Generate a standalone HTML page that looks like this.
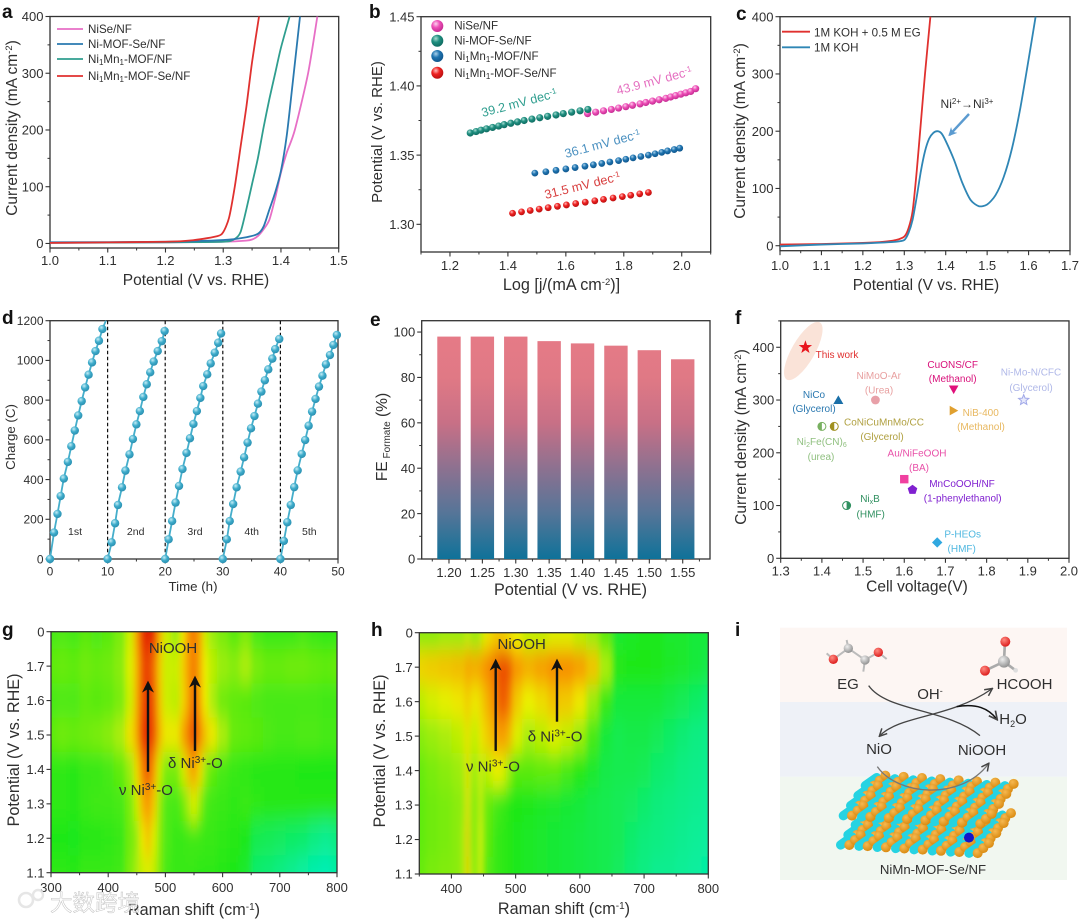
<!DOCTYPE html>
<html lang="en">
<head>
<meta charset="utf-8">
<title>Electrocatalysis figure</title>
<style>
html,body{margin:0;padding:0;background:#fff;width:1080px;height:921px;overflow:hidden}
svg{display:block}
text{font-family:"Liberation Sans","Noto Sans CJK SC",sans-serif;fill:#2f2f2f}
.pl{font-size:19px;font-weight:bold;fill:#111}
.t{font-size:15.5px}
.t16{font-size:16.2px}
.t13{font-size:13.3px}
.lg{font-size:11.6px}
.fl{font-size:10px}
.ht{font-size:15px}
.m{text-anchor:middle}
</style>
</head>
<body>
<svg id="fig" xmlns="http://www.w3.org/2000/svg" width="1080" height="921" viewBox="0 0 1080 921">
<defs>
<linearGradient id="barGrad" gradientUnits="userSpaceOnUse" x1="0" y1="332" x2="0" y2="559">
<stop offset="0" stop-color="#e67a87"/><stop offset=".2" stop-color="#e07985"/><stop offset=".4" stop-color="#c87086"/><stop offset=".6" stop-color="#8d7190"/><stop offset=".8" stop-color="#557598"/><stop offset="1" stop-color="#0f7299"/>
</linearGradient>
<radialGradient id="ballPink" cx=".38" cy=".32" r=".7"><stop offset="0" stop-color="#fbd3ee"/><stop offset=".45" stop-color="#ee50b8"/><stop offset="1" stop-color="#c22a90"/></radialGradient>
<radialGradient id="ballTeal" cx=".38" cy=".32" r=".7"><stop offset="0" stop-color="#a8dcd2"/><stop offset=".45" stop-color="#1f8f80"/><stop offset="1" stop-color="#0f6a60"/></radialGradient>
<radialGradient id="ballBlue" cx=".38" cy=".32" r=".7"><stop offset="0" stop-color="#a8d0ea"/><stop offset=".45" stop-color="#1f74b0"/><stop offset="1" stop-color="#10568c"/></radialGradient>
<radialGradient id="ballRed" cx=".38" cy=".32" r=".7"><stop offset="0" stop-color="#fbb"/><stop offset=".45" stop-color="#ee2020"/><stop offset="1" stop-color="#b81010"/></radialGradient>
<radialGradient id="ballCyan" cx=".38" cy=".32" r=".7"><stop offset="0" stop-color="#c5edf6"/><stop offset=".5" stop-color="#3eaccb"/><stop offset="1" stop-color="#2a8fb0"/></radialGradient>
<radialGradient id="ballOrange" cx=".38" cy=".32" r=".7"><stop offset="0" stop-color="#f6b850"/><stop offset="1" stop-color="#d98a10"/></radialGradient>
<radialGradient id="ballO" cx=".38" cy=".32" r=".7"><stop offset="0" stop-color="#ff8a80"/><stop offset="1" stop-color="#dc1a1a"/></radialGradient>
<radialGradient id="ballC" cx=".38" cy=".32" r=".7"><stop offset="0" stop-color="#eee"/><stop offset="1" stop-color="#8f8f8f"/></radialGradient>
<filter id="heatBlur" x="-5%" y="-5%" width="110%" height="110%"><feGaussianBlur stdDeviation="3 11"/></filter>
<clipPath id="clipG"><rect x="51" y="631.7" width="286" height="241"/></clipPath>
<clipPath id="clipH"><rect x="419.3" y="632.7" width="289" height="241.3"/></clipPath>
<marker id="ah" viewBox="0 0 10 10" refX="8" refY="5" markerWidth="5" markerHeight="5" orient="auto-start-reverse"><path d="M0 0 L10 5 L0 10 L3 5 Z" fill="#111"/></marker>
<marker id="ahg" viewBox="0 0 10 10" refX="8" refY="5" markerWidth="7" markerHeight="7" orient="auto-start-reverse"><path d="M1 1 L9 5 L1 9" fill="none" stroke="#444" stroke-width="1.6"/></marker>
<marker id="ahb" viewBox="0 0 10 10" refX="8" refY="5" markerWidth="3.6" markerHeight="3.6" orient="auto"><path d="M0 0 L10 5 L0 10 L3 5 Z" fill="#5b9bd0"/></marker>
</defs>

<g id="panelI">
<rect x="780" y="627.7" width="287" height="74.3" fill="#fdf6f3"/>
<rect x="780" y="702" width="287" height="74.7" fill="#eef1f7"/>
<rect x="780" y="776.7" width="287" height="103.3" fill="#f1f7f0"/>
<g id="mof" transform="translate(730,615) scale(.3333)"></g>
<g id="mol" transform="translate(730,615) scale(.3333)">
<g>
<path d="M290 115L310 133L355 100L405 135L445 112L470 132M355 100L350 75M405 135L400 170" stroke="#bbb" stroke-width="6" fill="none"/>
<circle cx="310" cy="133" r="14" fill="url(#ballO)"/><circle cx="445" cy="112" r="14" fill="url(#ballO)"/>
<circle cx="355" cy="100" r="14" fill="url(#ballC)"/><circle cx="405" cy="135" r="14" fill="url(#ballC)"/>
</g>
<g>
<path d="M825 80L822 140L765 167M822 140L855 165" stroke="#aaa" stroke-width="8" fill="none"/>
<circle cx="822" cy="140" r="18" fill="url(#ballC)"/><circle cx="826" cy="80" r="15" fill="url(#ballO)"/><circle cx="765" cy="167" r="15" fill="url(#ballO)"/><circle cx="857" cy="166" r="7" fill="#ddd"/>
</g>
<path d="M416 212 C470 290 650 280 750 362" fill="none" stroke="#444" stroke-width="4"/>
<path d="M450 362 C510 300 660 310 785 222" fill="none" stroke="#444" stroke-width="4" marker-start="url(#ahg)" marker-end="url(#ahg)"/>
<path d="M680 275 C740 265 775 280 800 312" fill="none" stroke="#111" stroke-width="4.5" marker-end="url(#ahg)"/>
<path d="M442 455 C500 540 690 560 775 447" fill="none" stroke="#777" stroke-width="4" marker-end="url(#ahg)"/>
</g>
<text class="ht m" x="848" y="689">EG</text>
<text class="ht m" x="1024.5" y="689">HCOOH</text>
<text class="ht m" x="930" y="699">OH<tspan font-size="9" dy="-5">-</tspan></text>
<text class="ht m" x="1013" y="724">H<tspan font-size="9" dy="3">2</tspan><tspan dy="-3">O</tspan></text>
<text class="ht m" x="879" y="754">NiO</text>
<text class="ht m" x="982" y="755">NiOOH</text>
<text class="m" font-size="13.2" x="933" y="874">NiMn-MOF-Se/NF</text>
</g>

<g id="marks"></g>

<!-- panel letters -->
<text class="pl" x="2" y="18">a</text>
<text class="pl" x="369" y="18">b</text>
<text class="pl" x="736" y="20">c</text>
<text class="pl" x="2" y="324">d</text>
<text class="pl" x="370" y="326">e</text>
<text class="pl" x="735" y="324">f</text>
<text class="pl" x="2" y="636">g</text>
<text class="pl" x="371" y="636">h</text>
<text class="pl" x="735" y="636">i</text>

<!-- axis titles -->
<text class="t m" x="196" y="285">Potential (V vs. RHE)</text>
<text class="t m" transform="translate(17,128) rotate(-90)">Current density (mA cm<tspan font-size="9.5" dy="-5">-2</tspan><tspan dy="5">)</tspan></text>
<text class="t16 m" x="561.5" y="290">Log [j/(mA cm<tspan font-size="9.5" dy="-5">-2</tspan><tspan dy="5">)]</tspan></text>
<text class="t m" style="font-size:15px" transform="translate(382,132) rotate(-90)">Potential (V vs. RHE)</text>
<text class="t m" x="926" y="290">Potential (V vs. RHE)</text>
<text class="t m" transform="translate(745,131) rotate(-90)">Current density (mA cm<tspan font-size="9.5" dy="-5">-2</tspan><tspan dy="5">)</tspan></text>
<text class="t13 m" x="193" y="591">Time (h)</text>
<text class="t13 m" transform="translate(15,437) rotate(-90)">Charge (C)</text>
<text class="t16 m" x="570.5" y="595">Potential (V vs. RHE)</text>
<text class="t m" transform="translate(387,437) rotate(-90)">FE<tspan font-size="10" dy="3"> Formate</tspan><tspan dy="-3"> (%)</tspan></text>
<text class="t m" x="917" y="591.7">Cell voltage(V)</text>
<text class="t m" transform="translate(746,437) rotate(-90)">Current density (mA cm<tspan font-size="9.5" dy="-5">-2</tspan><tspan dy="5">)</tspan></text>
<text class="t16 m" x="194" y="915">Raman shift (cm<tspan font-size="10" dy="-5">-1</tspan><tspan dy="5">)</tspan></text>
<text class="t16 m" transform="translate(19,750) rotate(-90)">Potential (V vs. RHE)</text>
<text class="t16 m" x="564" y="914">Raman shift (cm<tspan font-size="10" dy="-5">-1</tspan><tspan dy="5">)</tspan></text>
<text class="t16 m" transform="translate(385,751) rotate(-90)">Potential (V vs. RHE)</text>

<!-- legend a -->
<g>
<line x1="57" x2="83" y1="29" y2="29" stroke="#e76fc6" stroke-width="1.8"/>
<line x1="57" x2="83" y1="44" y2="44" stroke="#2a7ab0" stroke-width="1.8"/>
<line x1="57" x2="83" y1="59" y2="59" stroke="#2f9e8f" stroke-width="1.8"/>
<line x1="57" x2="83" y1="76" y2="76" stroke="#e0312f" stroke-width="1.8"/>
<text class="lg" x="88" y="33">NiSe/NF</text>
<text class="lg" x="88" y="48">Ni-MOF-Se/NF</text>
<text class="lg" x="88" y="63">Ni<tspan font-size="8" dy="2">1</tspan><tspan dy="-2">Mn</tspan><tspan font-size="8" dy="2">1</tspan><tspan dy="-2">-MOF/NF</tspan></text>
<text class="lg" x="88" y="80">Ni<tspan font-size="8" dy="2">1</tspan><tspan dy="-2">Mn</tspan><tspan font-size="8" dy="2">1</tspan><tspan dy="-2">-MOF-Se/NF</tspan></text>
</g>
<!-- legend b -->
<g>
<circle cx="437.3" cy="26" r="6" fill="url(#ballPink)"/>
<circle cx="437.3" cy="40.7" r="6" fill="url(#ballTeal)"/>
<circle cx="437.3" cy="56" r="6" fill="url(#ballBlue)"/>
<circle cx="437.3" cy="72.7" r="6" fill="url(#ballRed)"/>
<text class="lg" x="454.3" y="29.5">NiSe/NF</text>
<text class="lg" x="454.3" y="44.7">Ni-MOF-Se/NF</text>
<text class="lg" x="454.3" y="60">Ni<tspan font-size="8" dy="2">1</tspan><tspan dy="-2">Mn</tspan><tspan font-size="8" dy="2">1</tspan><tspan dy="-2">-MOF/NF</tspan></text>
<text class="lg" x="454.3" y="77">Ni<tspan font-size="8" dy="2">1</tspan><tspan dy="-2">Mn</tspan><tspan font-size="8" dy="2">1</tspan><tspan dy="-2">-MOF-Se/NF</tspan></text>
</g>
<text font-size="12.6" style="fill:#2f9e8f" transform="translate(482.7,117) rotate(-15)">39.2 mV dec<tspan font-size="8" dy="-4">-1</tspan></text>
<text font-size="12.6" style="fill:#e56fc0" transform="translate(617.7,95) rotate(-15)">43.9 mV dec<tspan font-size="8" dy="-4">-1</tspan></text>
<text font-size="12.6" style="fill:#4a90c0" transform="translate(566,158) rotate(-15)">36.1 mV dec<tspan font-size="8" dy="-4">-1</tspan></text>
<text font-size="12.6" style="fill:#d84040" transform="translate(545.7,199) rotate(-14)">31.5 mV dec<tspan font-size="8" dy="-4">-1</tspan></text>
<!-- legend c -->
<g>
<line x1="782" x2="810" y1="31.7" y2="31.7" stroke="#e0312f" stroke-width="1.8"/>
<line x1="782" x2="810" y1="47.3" y2="47.3" stroke="#2f86b5" stroke-width="1.8"/>
<text class="lg" x="814" y="36.5">1M KOH + 0.5 M EG</text>
<text class="lg" x="814" y="51.5">1M KOH</text>
</g>
<text class="m" font-size="12" x="967" y="108">Ni<tspan font-size="8" dy="-4">2+</tspan><tspan dy="4">→Ni</tspan><tspan font-size="8" dy="-4">3+</tspan></text>
<line x1="969" y1="114" x2="949.5" y2="135" stroke="#5b9bd0" stroke-width="2.4" marker-end="url(#ahb)"/>
<!-- cycle labels -->
<text class="m" font-size="10.5" x="75" y="535">1st</text>
<text class="m" font-size="10.5" x="135.7" y="535">2nd</text>
<text class="m" font-size="10.5" x="195" y="535">3rd</text>
<text class="m" font-size="10.5" x="251.7" y="535">4th</text>
<text class="m" font-size="10.5" x="309.3" y="535">5th</text>
<!-- f labels -->
<g>
<text class="fl m" style="fill:#e0302f" x="837" y="358">This work</text>
<text class="fl m" style="fill:#e8a0a0" x="878.7" y="379">NiMoO-Ar</text>
<text class="fl m" style="fill:#e8a0a0" x="879" y="393.7">(Urea)</text>
<text class="fl m" style="fill:#d8107a" x="952.7" y="368">CuONS/CF</text>
<text class="fl m" style="fill:#d8107a" x="952.7" y="382">(Methanol)</text>
<text class="fl m" style="fill:#b0b8e8" x="1031" y="375.7">Ni-Mo-N/CFC</text>
<text class="fl m" style="fill:#b0b8e8" x="1031" y="391">(Glycerol)</text>
<text class="fl m" style="fill:#2a78b0" x="814" y="398">NiCo</text>
<text class="fl m" style="fill:#2a78b0" x="814" y="412">(Glycerol)</text>
<text class="fl m" style="fill:#b0a040" x="884" y="425.7">CoNiCuMnMo/CC</text>
<text class="fl m" style="fill:#b0a040" x="882" y="440">(Glycerol)</text>
<text class="fl m" style="fill:#e8b860" x="980.7" y="416">NiB-400</text>
<text class="fl m" style="fill:#e8b860" x="981" y="430">(Methanol)</text>
<text class="fl m" style="fill:#90c080" x="821.7" y="445">Ni<tspan font-size="7" dy="2">2</tspan><tspan dy="-2">Fe(CN)</tspan><tspan font-size="7" dy="2">6</tspan></text>
<text class="fl m" style="fill:#90c080" x="821" y="460">(urea)</text>
<text class="fl m" style="fill:#e850a8" x="917" y="456.7">Au/NiFeOOH</text>
<text class="fl m" style="fill:#e850a8" x="919" y="471">(BA)</text>
<text class="fl m" style="fill:#8020d0" x="962" y="487">MnCoOOH/NF</text>
<text class="fl m" style="fill:#8020d0" x="962.7" y="501.7">(1-phenylethanol)</text>
<text class="fl m" style="fill:#309060" x="870" y="502">Ni<tspan font-size="7" dy="2">x</tspan><tspan dy="-2">B</tspan></text>
<text class="fl m" style="fill:#309060" x="870.7" y="517.7">(HMF)</text>
<text class="fl m" style="fill:#50b8e0" x="962.7" y="537.7">P-HEOs</text>
<text class="fl m" style="fill:#50b8e0" x="961.7" y="552">(HMF)</text>
</g>
<!-- heat annotations -->
<g>
<line x1="148" y1="771.7" x2="148" y2="683" stroke="#111" stroke-width="2.4" marker-end="url(#ah)"/>
<line x1="195" y1="751" x2="195" y2="678" stroke="#111" stroke-width="2.4" marker-end="url(#ah)"/>
<text class="ht m" x="173" y="653">NiOOH</text>
<text class="ht" x="168" y="768">δ Ni<tspan font-size="10" dy="-5">3+</tspan><tspan dy="5">-O</tspan></text>
<text class="ht" x="119" y="795">ν Ni<tspan font-size="10" dy="-5">3+</tspan><tspan dy="5">-O</tspan></text>
</g>
<g>
<line x1="495.7" y1="751" x2="495.7" y2="661" stroke="#111" stroke-width="2.4" marker-end="url(#ah)"/>
<line x1="557" y1="721.7" x2="557" y2="661" stroke="#111" stroke-width="2.4" marker-end="url(#ah)"/>
<text class="ht m" x="521.7" y="649">NiOOH</text>
<text class="ht" x="527.7" y="741.7">δ Ni<tspan font-size="10" dy="-5">3+</tspan><tspan dy="5">-O</tspan></text>
<text class="ht" x="466" y="771.7">ν Ni<tspan font-size="10" dy="-5">3+</tspan><tspan dy="5">-O</tspan></text>
</g>
<!-- watermark -->
<g opacity=".9">
<circle cx="26" cy="900" r="7" fill="none" stroke="#e4e4e4" stroke-width="2.6"/>
<circle cx="38" cy="895" r="5" fill="none" stroke="#e4e4e4" stroke-width="2.4"/>
<text x="50" y="911" font-size="22.5" style="fill:#fff;stroke:#bbb;stroke-width:.5">大数跨境</text>
</g>

<script>
// ---- Panel a data ----
var aNiSeV = [1.0,1.2,1.3,1.34,1.35,1.36,1.37,1.38,1.39,1.40,1.41,1.424,1.447,1.463];
var aNiSeJ = [1,2,3,5,7,13,25,42,80,125,160,200,300,400];
var aNiMofSeV = [1.0,1.2,1.3,1.34,1.36,1.37,1.38,1.39,1.40,1.41,1.42,1.433];
var aNiMofSeJ = [2,3,6,11,17,30,60,90,128,190,280,400];
var aNiMnMofV = [1.0,1.2,1.3,1.32,1.33,1.34,1.35,1.36,1.37,1.38,1.39,1.40,1.415];
var aNiMnMofJ = [1,2,3,8,20,60,105,150,205,255,300,345,400];
var aNiMnMofSeV = [1.0,1.2,1.25,1.29,1.30,1.31,1.32,1.33,1.34,1.35,1.362];
var aNiMnMofSeJ = [1,3,6,13,20,45,100,170,240,320,400];
var aXTicks = [1.0,1.1,1.2,1.3,1.4,1.5];
var aXLabels = ['1.0','1.1','1.2','1.3','1.4','1.5'];
var currentTicks = [0,100,200,300,400];
var currentLabels = ['0','100','200','300','400'];

// ---- Panel b data ----
var bNiSeX = [1.675,1.703,1.73,1.757,1.782,1.807,1.83,1.856,1.876,1.899,1.922,1.945,1.962,1.979,1.997,2.014,2.031,2.048];
var bNiSeY = [1.380,1.381,1.382,1.383,1.384,1.385,1.386,1.387,1.388,1.389,1.390,1.391,1.392,1.393,1.394,1.395,1.396,1.398];
var bNiMofSeX = [1.27,1.29,1.307,1.326,1.347,1.368,1.387,1.41,1.433,1.456,1.483,1.51,1.537,1.566,1.591,1.62,1.649,1.676];
var bNiMofSeY = [1.366,1.367,1.368,1.369,1.370,1.371,1.372,1.373,1.374,1.375,1.376,1.377,1.378,1.379,1.380,1.381,1.382,1.383];
var bNiMnMofX = [1.493,1.531,1.566,1.6,1.632,1.666,1.695,1.724,1.752,1.782,1.807,1.832,1.859,1.885,1.908,1.931,1.951,1.974,1.993];
var bNiMnMofY = [1.337,1.338,1.339,1.340,1.341,1.342,1.343,1.344,1.345,1.346,1.347,1.348,1.349,1.350,1.351,1.352,1.353,1.354,1.355];
var bNiMnMofSeX = [1.416,1.447,1.477,1.508,1.539,1.571,1.602,1.634,1.667,1.7,1.73,1.763,1.795,1.824,1.855,1.885];
var bNiMnMofSeY = [1.308,1.309,1.310,1.311,1.312,1.313,1.314,1.315,1.316,1.317,1.318,1.319,1.320,1.321,1.322,1.323];
var bXTicks = [1.2,1.4,1.6,1.8,2.0];
var bXLabels = ['1.2','1.4','1.6','1.8','2.0'];
var bYTicks = [1.30,1.35,1.40,1.45];
var bYLabels = ['1.30','1.35','1.40','1.45'];

// ---- Panel c data ----
var cEgV = [1.0,1.1,1.2,1.25,1.28,1.30,1.31,1.32,1.33,1.34,1.35,1.363];
var cEgJ = [2,3,5,7,10,16,30,60,130,215,300,400];
var cKohV = [1.0,1.1,1.2,1.28,1.30,1.31,1.32,1.33,1.34,1.35,1.36,1.37,1.38,1.39,1.40,1.42,1.44,1.46,1.48,1.50,1.52,1.54,1.56,1.58,1.60,1.617];
var cKohJ = [-1,2,4,7,10,22,45,85,130,165,187,197,200,196,183,150,110,80,69,72,88,120,170,240,325,400];
var cXTicks = [1.0,1.1,1.2,1.3,1.4,1.5,1.6,1.7];
var cXLabels = ['1.0','1.1','1.2','1.3','1.4','1.5','1.6','1.7'];

// ---- Panel d data ----
var dTime = [0,0.7,1.3,1.85,2.4,3.1,3.7,4.3,4.9,5.5,6.1,6.7,7.3,7.9,8.5,9.1,
  10,10.7,11.3,11.8,12.5,13.1,13.8,14.4,15,15.6,16.2,16.8,17.4,18,18.7,19.4,19.9,
  20,20.6,21.2,21.8,22.4,23,23.7,24.3,24.9,25.5,26.1,26.6,27.3,27.9,28.6,29.2,29.7,
  30,30.7,31.2,31.8,32.4,33.1,33.7,34.3,34.9,35.5,36.1,36.7,37.3,37.9,38.6,39.1,39.8,
  40,40.6,41.2,41.8,42.4,43,43.7,44.3,44.9,45.5,46.1,46.7,47.3,47.9,48.6,49.2,49.8];
var dCharge = [0,133,227,317,405,489,568,647,723,795,864,928,990,1047,1099,1158,
  0,84,180,272,361,445,527,604,678,745,816,880,940,994,1047,1097,1148,
  0,99,191,284,368,453,534,608,680,745,811,871,930,985,1039,1089,1136,
  0,99,191,277,361,440,512,586,658,720,782,843,900,955,1009,1057,1108,
  0,91,185,272,362,446,529,599,671,742,806,868,923,980,1027,1078,1128];
var dTailTime = [9.1,9.7];
var dTailCharge = [1158,1200];
var dCycleEnds = [10,20,30,40];
var dXTicks = [0,10,20,30,40,50];
var dXLabels = ['0','10','20','30','40','50'];
var dYTicks = [0,200,400,600,800,1000,1200];
var dYLabels = ['0','200','400','600','800','1000','1200'];

// ---- Panel e data ----
var ePotentials = ['1.20','1.25','1.30','1.35','1.40','1.45','1.50','1.55'];
var eFE = [98,98,98,96,95,94,92,88];
var eYTicks = [0,20,40,60,80,100];
var eYLabels = ['0','20','40','60','80','100'];

// ---- Panel f data ----
var fNames = ['this-work','nimoo-ar','cuons-cf','ni-mo-n-cfc','nico','nib-400','conicumnmo-cc','ni2fe-cn6','au-nifeooh','mncoooh-nf','nixb','p-heos'];
var fVoltage = [1.36,1.53,1.72,1.89,1.44,1.72,1.43,1.40,1.60,1.62,1.46,1.68];
var fDensity = [400,300,320,300,300,280,250,250,150,130,100,30];
var fColors = ['#e8141c','#e8a0a8','#e0107a','#a0a8e8','#1a6fa8','#e0a030','#a09020','#78b060','#f040a0','#8020d0','#309060','#30a8e0'];
var fShapes = ['star','circle','down','ostar','up','right','half','half','square','pent','half','diamond'];
var fXTicks = [1.3,1.4,1.5,1.6,1.7,1.8,1.9,2.0];
var fXLabels = ['1.3','1.4','1.5','1.6','1.7','1.8','1.9','2.0'];
var fYTicks = [0,100,200,300,400];
var fYLabels = ['0','100','200','300','400'];

// ---- Panel g data ----
var gShift = [300,320,340,360,380,400,420,440,450,460,470,480,490,500,520,530,540,550,560,570,580,600,620,640,660,680,700,720,740,760,780,800];
var gPotential = [1.8,1.7,1.6,1.5,1.4,1.3,1.2,1.1];
var gRow18 = [.3,.31,.3,.32,.31,.32,.36,.46,.72,.94,1,.96,.68,.46,.4,.52,.74,.8,.7,.46,.4,.36,.32,.36,.3,.28,.28,.28,.3,.28,.27,.27];
var gRow17 = [.33,.34,.33,.35,.34,.35,.38,.48,.66,.88,.92,.82,.6,.46,.46,.58,.72,.8,.68,.5,.44,.4,.38,.42,.36,.34,.34,.35,.35,.34,.33,.34];
var gRow16 = [.3,.31,.31,.33,.32,.33,.36,.46,.68,.88,.96,.85,.62,.46,.44,.56,.7,.85,.7,.5,.42,.35,.33,.32,.31,.3,.3,.3,.3,.3,.29,.29];
var gRow15 = [.33,.35,.34,.35,.36,.38,.42,.54,.7,.92,.98,.88,.66,.52,.52,.68,.8,.92,.78,.62,.52,.42,.34,.33,.32,.31,.3,.3,.31,.31,.3,.3];
var gRow14 = [.27,.27,.26,.28,.28,.3,.33,.4,.56,.78,.88,.72,.46,.36,.36,.46,.62,.72,.56,.4,.33,.3,.28,.27,.26,.26,.26,.26,.25,.25,.25,.25];
var gRow13 = [.27,.27,.26,.28,.29,.29,.3,.36,.46,.66,.74,.6,.4,.31,.3,.34,.42,.48,.4,.31,.29,.28,.27,.28,.27,.26,.26,.26,.26,.26,.26,.26];
var gRow12 = [.25,.25,.24,.26,.26,.27,.28,.35,.4,.52,.62,.48,.38,.31,.28,.28,.29,.29,.29,.28,.28,.27,.26,.24,.17,.16,.15,.14,.13,.1,.08,.1];
var gRow11 = [.27,.27,.26,.28,.28,.28,.29,.36,.42,.46,.48,.45,.37,.3,.28,.28,.28,.28,.27,.27,.27,.26,.25,.22,.13,.12,.1,.08,.06,.04,.03,.05];
var gValues = [gRow18,gRow17,gRow16,gRow15,gRow14,gRow13,gRow12,gRow11];
var gXTicks = [300,400,500,600,700,800];
var gXLabels = ['300','400','500','600','700','800'];
var potTicks = [1.1,1.2,1.3,1.4,1.5,1.6,1.7,1.8];
var potLabels = ['1.1','1.2','1.3','1.4','1.5','1.6','1.7','0'];

// ---- Panel h data ----
var hShift = [350,370,390,410,420,425,430,440,445,450,460,470,480,490,500,520,540,560,580,600,620,640,660,680,700,720,740,760,780,800];
var hPotential = [1.8,1.7,1.6,1.5,1.4,1.3,1.2,1.1];
var hRow18 = [.38,.38,.4,.4,.4,.46,.4,.4,.42,.48,.55,.6,.6,.55,.5,.45,.45,.48,.48,.44,.4,.32,.22,.23,.24,.24,.22,.22,.2,.2];
var hRow17 = [.58,.6,.62,.64,.64,.72,.68,.68,.7,.74,.78,.84,.9,.86,.74,.68,.72,.76,.76,.72,.62,.42,.26,.25,.25,.24,.23,.22,.2,.18];
var hRow16 = [.44,.47,.49,.52,.54,.62,.54,.52,.56,.62,.7,.8,.88,.8,.6,.5,.55,.62,.6,.52,.4,.28,.2,.2,.2,.2,.18,.16,.14,.12];
var hRow15 = [.38,.4,.42,.44,.46,.55,.46,.45,.52,.56,.62,.7,.72,.65,.48,.42,.44,.48,.45,.4,.3,.2,.17,.18,.18,.16,.14,.12,.1,.09];
var hRow14 = [.34,.36,.38,.4,.42,.55,.42,.4,.48,.42,.46,.5,.48,.4,.32,.32,.33,.33,.3,.26,.22,.18,.17,.17,.16,.13,.12,.1,.09,.08];
var hRow13 = [.33,.35,.36,.38,.4,.55,.4,.36,.48,.36,.33,.3,.28,.26,.25,.24,.23,.22,.21,.2,.18,.17,.16,.15,.13,.11,.1,.09,.08,.07];
var hRow12 = [.33,.35,.36,.38,.42,.6,.4,.36,.5,.36,.32,.28,.27,.26,.24,.23,.22,.21,.2,.19,.18,.17,.16,.13,.11,.1,.09,.08,.07,.06];
var hRow11 = [.34,.36,.37,.38,.42,.6,.42,.36,.5,.34,.31,.28,.27,.26,.24,.23,.22,.21,.2,.19,.18,.17,.15,.12,.1,.08,.08,.07,.06,.05];
var hValues = [hRow18,hRow17,hRow16,hRow15,hRow14,hRow13,hRow12,hRow11];
var hXTicks = [400,500,600,700,800];
var hXLabels = ['400','500','600','700','800'];

var NS = 'http://www.w3.org/2000/svg';
var root = document.getElementById('marks');

function mk(tag, attrs, parent, name) {
  var el = document.createElementNS(NS, tag);
  for (var k in attrs) el.setAttribute(k, attrs[k]);
  
  
  (parent || root).appendChild(el);
  return el;
}
function scale(d0, d1, p0, p1) {
  return function (v) { return p0 + (v - d0) / (d1 - d0) * (p1 - p0); };
}
function axes(id, box, sx, sy, o) {
  var g = mk('g', {}, root, id + '-axes');
  var c = '#333';
  mk('rect', {x: box[0], y: box[1], width: box[2] - box[0], height: box[3] - box[1], fill: 'none', stroke: c, 'stroke-width': 1.3}, g, id + '-frame');
  o.xt.forEach(function (v, i) {
    mk('line', {x1: sx(v), x2: sx(v), y1: box[3], y2: box[3] + 4.5, stroke: c, 'stroke-width': 1.1}, g, id + '-x-tick');
    var t = mk('text', {x: sx(v), y: o.xb, 'text-anchor': 'middle', 'font-size': o.fs}, g, id + '-x-tick-label');
    t.textContent = o.xl[i];
  });
  o.yt.forEach(function (v, i) {
    mk('line', {x1: box[0] - 4.5, x2: box[0], y1: sy(v), y2: sy(v), stroke: c, 'stroke-width': 1.1}, g, id + '-y-tick');
    var t = mk('text', {x: box[0] - 6.5, y: sy(v) + o.fs * 0.36, 'text-anchor': 'end', 'font-size': o.fs}, g, id + '-y-tick-label');
    t.textContent = o.yl[i];
  });
  (o.xm || []).forEach(function (v) {
    mk('line', {x1: sx(v), x2: sx(v), y1: box[3], y2: box[3] + 2.5, stroke: c, 'stroke-width': 1}, g, id + '-x-minor-tick');
  });
  (o.ym || []).forEach(function (v) {
    mk('line', {x1: box[0] - 2.5, x2: box[0], y1: sy(v), y2: sy(v), stroke: c, 'stroke-width': 1}, g, id + '-y-minor-tick');
  });
}
function mids(a) {
  var r = [];
  for (var i = 0; i < a.length - 1; i++) r.push((a[i] + a[i + 1]) / 2);
  return r;
}
function curve(xs, ys, sx, sy, color, name) {
  var P = xs.map(function (x, i) { return [sx(x), sy(ys[i])]; });
  var d = 'M' + P[0][0].toFixed(2) + ' ' + P[0][1].toFixed(2);
  for (var i = 0; i < P.length - 1; i++) {
    var p0 = P[Math.max(i - 1, 0)], p1 = P[i], p2 = P[i + 1], p3 = P[Math.min(i + 2, P.length - 1)];
    var k = 1 / 8;
    d += 'C' + (p1[0] + (p2[0] - p0[0]) * k).toFixed(2) + ' ' + (p1[1] + (p2[1] - p0[1]) * k).toFixed(2) + ' ' +
      (p2[0] - (p3[0] - p1[0]) * k).toFixed(2) + ' ' + (p2[1] - (p3[1] - p1[1]) * k).toFixed(2) + ' ' +
      p2[0].toFixed(2) + ' ' + p2[1].toFixed(2);
  }
  return mk('path', {d: d, fill: 'none', stroke: color, 'stroke-width': 1.8, 'stroke-linejoin': 'round'}, root, name);
}
function balls(xs, ys, sx, sy, fill, r, name) {
  var g = mk('g', {}, root, name + '-series');
  xs.forEach(function (x, i) {
    mk('circle', {cx: sx(x), cy: sy(ys[i]), r: r, fill: fill}, g, name + '-point');
  });
}
function heatColor(v) {
  var stops = [[0, 0, 240, 200], [.25, 30, 232, 24], [.5, 236, 240, 0], [.75, 248, 146, 0], [1, 226, 26, 0]];
  v = Math.max(0, Math.min(1, v));
  for (var i = 1; i < stops.length; i++) {
    if (v <= stops[i][0]) {
      var a = stops[i - 1], b = stops[i], t = (v - a[0]) / (b[0] - a[0]);
      return 'rgb(' + [1, 2, 3].map(function (k) { return Math.round(a[k] + (b[k] - a[k]) * t); }).join(',') + ')';
    }
  }
}
function heat(id, shifts, pots, vals, sx, sy, clip) {
  var outer = mk('g', {'clip-path': 'url(#' + clip + ')'}, root, id + '-heatmap');
  var g = mk('g', {filter: 'url(#heatBlur)'}, outer, id + '-heatmap-cells');
  var xe = mids(shifts), ye = mids(pots);
  pots.forEach(function (p, r) {
    var top = r === 0 ? sy(p) - 40 : sy(ye[r - 1]);
    var bot = r === pots.length - 1 ? sy(p) + 40 : sy(ye[r]);
    shifts.forEach(function (s, c) {
      var l = c === 0 ? sx(s) - 30 : sx(xe[c - 1]);
      var rr = c === shifts.length - 1 ? sx(s) + 30 : sx(xe[c]);
      mk('rect', {x: l, y: top, width: rr - l + .5, height: bot - top + .5, fill: heatColor(vals[r][c])}, g, id + '-heat-cell');
    });
  });
}
function range(a, b, st) {
  var r = [];
  for (var i = 0; a + i * st <= b + 1e-9; i++) r.push(a + i * st);
  return r;
}

// Panel a
var ax = scale(1.0, 1.5, 50, 338.7), ay = scale(-8, 400, 248, 16.5);
axes('a', [50, 16.5, 338.7, 248], ax, ay, {xt: aXTicks, xl: aXLabels, yt: currentTicks, yl: currentLabels, xb: 265, fs: 13, xm: range(1.05, 1.45, .1), ym: range(50, 350, 100)});
curve(aNiSeV, aNiSeJ, ax, ay, '#e76fc6', 'a-nise-curve');
curve(aNiMnMofV, aNiMnMofJ, ax, ay, '#2f9e8f', 'a-nimn-mof-curve');
curve(aNiMofSeV, aNiMofSeJ, ax, ay, '#2a7ab0', 'a-ni-mof-se-curve');
curve(aNiMnMofSeV, aNiMnMofSeJ, ax, ay, '#e0312f', 'a-nimn-mof-se-curve');

// Panel b
var bx = scale(1.1, 2.1, 421, 710.7), by = scale(1.28, 1.45, 252, 16.7);
axes('b', [421, 16.7, 710.7, 252], bx, by, {xt: bXTicks, xl: bXLabels, yt: bYTicks, yl: bYLabels, xb: 270, fs: 13, xm: range(1.1, 2.1, .2), ym: range(1.325, 1.425, .05)});
balls(bNiSeX, bNiSeY, bx, by, 'url(#ballPink)', 3.6, 'b-nise');
balls(bNiMofSeX, bNiMofSeY, bx, by, 'url(#ballTeal)', 3.6, 'b-ni-mof-se');
balls(bNiMnMofX, bNiMnMofY, bx, by, 'url(#ballBlue)', 3.4, 'b-nimn-mof');
balls(bNiMnMofSeX, bNiMnMofSeY, bx, by, 'url(#ballRed)', 3.4, 'b-nimn-mof-se');

// Panel c
var cx = scale(1.0, 1.7, 780, 1070), cy = scale(-8.7, 400, 250.7, 16.7);
axes('c', [780, 16.7, 1070, 250.7], cx, cy, {xt: cXTicks, xl: cXLabels, yt: currentTicks, yl: currentLabels, xb: 270, fs: 13, xm: range(1.05, 1.65, .1), ym: range(50, 350, 100)});
curve(cEgV, cEgJ, cx, cy, '#e0312f', 'c-eg-curve');
curve(cKohV, cKohJ, cx, cy, '#2f86b5', 'c-koh-curve');

// Panel d
var dx = scale(0, 50, 50, 338), dy = scale(0, 1200, 559, 320.7);
axes('d', [50, 320.7, 338, 559], dx, dy, {xt: dXTicks, xl: dXLabels, yt: dYTicks, yl: dYLabels, xb: 575.7, fs: 12, xm: range(5, 45, 10), ym: range(100, 1100, 200)});
dCycleEnds.forEach(function (t) {
  mk('line', {x1: dx(t), x2: dx(t), y1: 320.7, y2: 559, stroke: '#111', 'stroke-width': 1.2, 'stroke-dasharray': '3.5 2.5'}, root, 'cycle-boundary-line');
});
var dStarts = [0];
dCharge.forEach(function (q, i) { if (i > 0 && q === 0) dStarts.push(i); });
dStarts.forEach(function (s, n) {
  var e = n + 1 < dStarts.length ? dStarts[n + 1] : dTime.length;
  curve(dTime.slice(s, e), dCharge.slice(s, e), dx, dy, '#45aecb', 'd-cycle-curve');
});
curve(dTailTime, dTailCharge, dx, dy, '#45aecb', 'd-first-cycle-tail');
balls(dTime, dCharge, dx, dy, 'url(#ballCyan)', 4.2, 'd-charge');

// Panel e
var ex = scale(-0.817, 7.817, 421.7, 710), ey = scale(0, 105, 559, 320.7);
axes('e', [421.7, 320.7, 710, 559], ex, ey, {
  xt: ePotentials.map(function (p, i) { return i; }), xl: ePotentials, yt: eYTicks, yl: eYLabels, xb: 577, fs: 13,
  xm: range(-.5, 7.5, 1), ym: range(10, 90, 20)
});
ePotentials.forEach(function (p, i) {
  mk('rect', {x: ex(i) - 11.7, y: ey(eFE[i]), width: 23.4, height: ey(0) - ey(eFE[i]), fill: 'url(#barGrad)'}, root, 'bar-' + p);
});

// Panel f
var fx = scale(1.3, 2.0, 780.7, 1069), fy = scale(0, 450, 558.3, 320.9);
axes('f', [780.7, 320.9, 1069, 558.3], fx, fy, {xt: fXTicks, xl: fXLabels, yt: fYTicks, yl: fYLabels, xb: 575.7, fs: 13, xm: range(1.35, 1.95, .1), ym: range(50, 450, 100)});
mk('ellipse', {cx: 803.3, cy: 351, rx: 33, ry: 11.5, fill: '#fae3d8', transform: 'rotate(-60 803.3 351)'}, root, 'this-work-highlight');
function poly(px, py, pts, fill, stroke, name) {
  return mk('polygon', {points: pts.map(function (p) { return (px + p[0]) + ',' + (py + p[1]); }).join(' '), fill: fill, stroke: stroke || 'none'}, root, name);
}
function starPts(R, r) {
  var a = [];
  for (var i = 0; i < 10; i++) {
    var rad = i % 2 ? r : R, th = -Math.PI / 2 + i * Math.PI / 5;
    a.push([rad * Math.cos(th), rad * Math.sin(th)]);
  }
  return a;
}
fNames.forEach(function (n, i) {
  var px = fx(fVoltage[i]), py = fy(fDensity[i]), col = fColors[i], nm = 'marker-' + n;
  switch (fShapes[i]) {
    case 'star': poly(px, py, starPts(7, 2.8), col, null, nm); break;
    case 'ostar': poly(px, py, starPts(5.4, 2.4), '#e6e8fa', col, nm); break;
    case 'circle': mk('circle', {cx: px, cy: py, r: 4.4, fill: col}, root, nm); break;
    case 'down': poly(px, py, [[-4.8, -4], [4.8, -4], [0, 4.6]], col, null, nm); break;
    case 'up': poly(px, py, [[-5, 4], [5, 4], [0, -4.6]], col, null, nm); break;
    case 'right': poly(px, py, [[-4, -4.8], [4.6, 0], [-4, 4.8]], col, null, nm); break;
    case 'square': mk('rect', {x: px - 4.2, y: py - 4.2, width: 8.4, height: 8.4, fill: col}, root, nm); break;
    case 'diamond': poly(px, py, [[0, -5.2], [5.2, 0], [0, 5.2], [-5.2, 0]], col, null, nm); break;
    case 'pent': poly(px, py, [[0, -5], [4.8, -1.5], [3, 4.2], [-3, 4.2], [-4.8, -1.5]], col, null, nm); break;
    case 'half':
      mk('circle', {cx: px, cy: py, r: 4, fill: '#fff', stroke: col, 'stroke-width': 1}, root, nm);
      mk('path', {d: 'M' + px + ' ' + (py - 4) + 'A4 4 0 0 ' + (n === 'nixb' ? 1 : 0) + ' ' + px + ' ' + (py + 4) + 'Z', fill: col}, root, nm + '-half');
      break;
  }
});

// Panel g
var gx = scale(300, 800, 51, 337), gy = scale(1.1, 1.8, 872.7, 631.7);
heat('g', gShift, gPotential, gValues, gx, gy, 'clipG');
axes('g', [51, 631.7, 337, 872.7], gx, gy, {xt: gXTicks, xl: gXLabels, yt: potTicks, yl: potLabels, xb: 892, fs: 13, xm: range(350, 750, 100)});

// Panel h
var hx = scale(350, 800, 419.3, 708.3), hy = scale(1.1, 1.8, 874, 632.7);
heat('h', hShift, hPotential, hValues, hx, hy, 'clipH');
axes('h', [419.3, 632.7, 708.3, 874], hx, hy, {xt: hXTicks, xl: hXLabels, yt: potTicks, yl: potLabels, xb: 893, fs: 13, xm: range(350, 750, 100)});

// Panel i: MOF lattice illustration
var mof = document.getElementById('mof');
[0, -90].forEach(function (off, L) {
  for (var r = 3; r >= 0; r--) {
    for (var c = 0; c < 8; c++) {
      var bx0 = 332 + c * 55 + r * 22 + L * 8, by0 = 690 + c * 3.5 - r * 30 + off + L * 2;
      mk('line', {x1: bx0, y1: by0, x2: bx0 + 34, y2: by0 - 24, stroke: '#26d3e2', 'stroke-width': 28, 'stroke-linecap': 'round'}, mof, 'mof-linker');
      mk('circle', {cx: bx0 + 38, cy: by0 - 12, r: 7, fill: '#1a30d0'}, mof, 'mof-node');
      for (var k = 0; k < 3; k++) {
        mk('circle', {cx: bx0 + 26 + k * 17, cy: by0 - k * 15, r: 15, fill: 'url(#ballOrange)'}, mof, 'mof-atom');
      }
    }
  }
});
mk('circle', {cx: 717, cy: 668, r: 15, fill: '#1414c8'}, mof, 'mof-metal-center');
</script>
</svg>
</body>
</html>
